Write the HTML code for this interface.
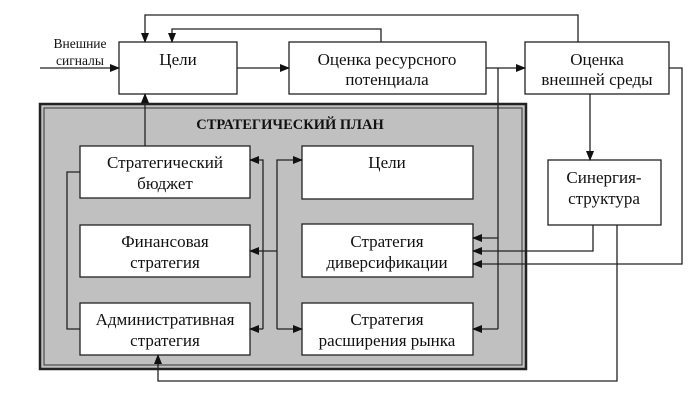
<!DOCTYPE html>
<html><head><meta charset="utf-8"><style>
body{margin:0;background:#fff}
svg text{font-family:"Liberation Serif",serif;fill:#111}
</style></head><body>
<svg width="698" height="402" viewBox="0 0 698 402" xmlns="http://www.w3.org/2000/svg">
<defs><marker id="a" markerWidth="10" markerHeight="8" refX="9" refY="4" orient="auto" markerUnits="userSpaceOnUse"><path d="M0,0 L10,4 L0,8 z" fill="#111"/></marker></defs>
<g stroke="#222" fill="none" stroke-width="1.3">
<rect x="40" y="104" width="486" height="265" fill="#c0c0c0" stroke="#222" stroke-width="2.5"/>
<rect x="44" y="108" width="478" height="257" fill="#c0c0c0" stroke="#333" stroke-width="1"/>
<rect x="119" y="42" width="118" height="52" fill="#fff"/>
<rect x="289" y="42" width="197" height="52" fill="#fff"/>
<rect x="525" y="42" width="144" height="52" fill="#fff"/>
<rect x="548" y="160" width="113" height="65" fill="#fff"/>
<rect x="80" y="146" width="170" height="52" fill="#fff"/>
<rect x="80" y="225" width="170" height="52" fill="#fff"/>
<rect x="80" y="303" width="170" height="52" fill="#fff"/>
<rect x="302" y="146" width="171" height="53" fill="#fff"/>
<rect x="302" y="224" width="171" height="53" fill="#fff"/>
<rect x="302" y="303" width="171" height="52" fill="#fff"/>
<path d="M40,68 H119" marker-end="url(#a)"/>
<path d="M237,68 H289" marker-end="url(#a)"/>
<path d="M486,68 H525" marker-end="url(#a)"/>
<path d="M578,42 V15 H145 V42" marker-end="url(#a)"/>
<path d="M381,42 V29 H172 V42" marker-end="url(#a)"/>
<path d="M145,146 V94" marker-end="url(#a)"/>
<path d="M590,94 V160" marker-end="url(#a)"/>
<path d="M498,68 V329"/>
<path d="M498,238 H473" marker-end="url(#a)"/>
<path d="M498,329 H473" marker-end="url(#a)"/>
<path d="M669,68 H682 V264 H473" marker-end="url(#a)"/>
<path d="M593,225 V251 H473" marker-end="url(#a)"/>
<path d="M617,225 V381 H158 V355" marker-end="url(#a)"/>
<path d="M80,172 H67 V329 H80"/>
<path d="M263,329 V160 H250" marker-end="url(#a)"/>
<path d="M263,329 H250" marker-end="url(#a)"/>
<path d="M277,329 V160 H302" marker-end="url(#a)"/>
<path d="M277,329 H302" marker-end="url(#a)"/>
<path d="M277,251 H250" marker-end="url(#a)"/>
</g>
<g font-size="17" text-anchor="middle">
<text x="80" y="48" font-size="13.5">Внешние</text>
<text x="80" y="65" font-size="13.5">сигналы</text>
<text x="178" y="65">Цели</text>
<text x="387" y="65">Оценка ресурсного</text>
<text x="387" y="85">потенциала</text>
<text x="597" y="65">Оценка</text>
<text x="597" y="85">внешней среды</text>
<text x="290" y="129" font-size="14.5" font-weight="bold">СТРАТЕГИЧЕСКИЙ ПЛАН</text>
<text x="165" y="168">Стратегический</text>
<text x="165" y="189">бюджет</text>
<text x="165" y="247">Финансовая</text>
<text x="165" y="268">стратегия</text>
<text x="165" y="325">Административная</text>
<text x="165" y="346">стратегия</text>
<text x="387" y="168">Цели</text>
<text x="387" y="247">Стратегия</text>
<text x="387" y="268">диверсификации</text>
<text x="387" y="325">Стратегия</text>
<text x="387" y="346">расширения рынка</text>
<text x="604" y="183">Синергия-</text>
<text x="604" y="204">структура</text>
</g>
</svg>
</body></html>
